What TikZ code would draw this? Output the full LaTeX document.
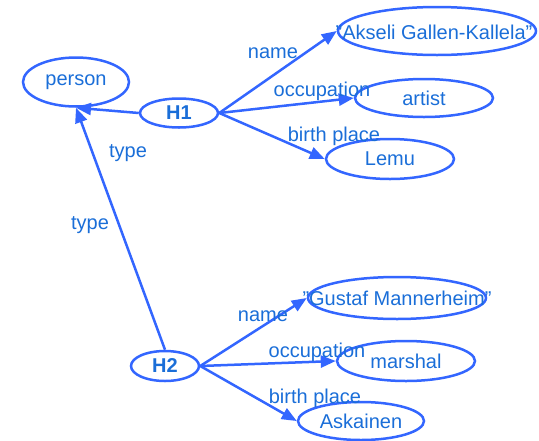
\documentclass[tikz,border=0pt]{standalone}
\usepackage{fontspec}
\setmainfont{Liberation Sans}
\usetikzlibrary{shapes.geometric,arrows.meta}
\definecolor{lineblue}{HTML}{3366FF}
\definecolor{textblue}{HTML}{1A6ED8}
\begin{document}
\begin{tikzpicture}[x=1pt,y=-1pt,
  txt/.style={text=textblue, font=\fontsize{20}{23}\selectfont, inner sep=0pt},
  every label/.style={txt},
  oval/.style={ellipse, draw=lineblue, line width=2.5pt, inner sep=0pt},
  conn/.style={draw=lineblue, line width=2.5pt, -{Triangle[length=15pt,width=12pt]}}]
\useasboundingbox (0,0) rectangle (539,440);
% nodes
\node[oval, minimum width=106pt, minimum height=49pt, label=center:{person}] (person) at (76,82) {};
\node[oval, minimum width=78pt, minimum height=29pt, label=center:{\bfseries H1}] (h1) at (179,113) {};
\node[oval, minimum width=198pt, minimum height=48pt, label={[xshift=-3pt,yshift=-1pt]center:{”Akseli Gallen-Kallela”}}] (akseli) at (437,31) {};
\node[oval, minimum width=138pt, minimum height=38pt, label=center:{artist}] (artist) at (424,98) {};
\node[oval, minimum width=128pt, minimum height=40pt, label=center:{Lemu}] (lemu) at (390,159) {};
\node[oval, minimum width=68pt, minimum height=30pt, label=center:{\bfseries H2}] (h2) at (165,366) {};
\node[oval, minimum width=178pt, minimum height=42pt, label=center:{”Gustaf Mannerheim”}] (gustaf) at (397,298) {};
\node[oval, minimum width=138pt, minimum height=40pt, label=center:{marshal}] (marshal) at (406,361) {};
\node[oval, minimum width=126pt, minimum height=38pt, label=center:{Askainen}] (askainen) at (361,421) {};
% connectors
\draw[conn] (h1.west) -- (person.south);
\draw[conn] (h2.north) -- (person.south);
\draw[conn] (h1.east) -- (akseli.west);
\draw[conn] (h1.east) -- (artist.west);
\draw[conn] (h1.east) -- (lemu.west);
\draw[conn] (h2.east) -- (gustaf.west);
\draw[conn] (h2.east) -- (marshal.west);
\draw[conn] (h2.east) -- (askainen.west);
% edge labels
\node[txt] (l1) at (128,153) {type};
\node[txt] (l2) at (90,225) {type};
\node[txt] (l3) at (273,53) {name};
\node[txt] (l4) at (322,91) {occupation};
\node[txt] (l5) at (334,136) {birth place};
\node[txt] (l6) at (263,316) {name};
\node[txt] (l7) at (317,352) {occupation};
\node[txt] (l8) at (315,398) {birth place};
\end{tikzpicture}
\end{document}
